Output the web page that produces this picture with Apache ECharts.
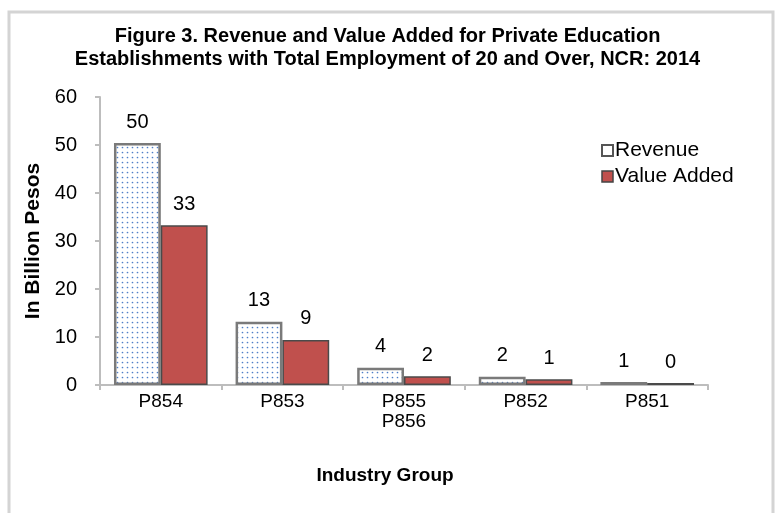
<!DOCTYPE html>
<html>
<head>
<meta charset="utf-8">
<script src="https://cdn.jsdelivr.net/npm/echarts@6/dist/echarts.min.js"></script>
<style>
  html, body { margin: 0; padding: 0; background: #fff; }
  #main { width: 775px; height: 513px; }
</style>
</head>
<body>
<div id="main"></div>
<script>
// 行业分组
const categories = ['P854', 'P853', 'P855\nP856', 'P852', 'P851'];
// 收入（十亿比索）
const revenue = [50.4, 13.2, 3.6, 1.7, 0.6];
// 增加值（十亿比索）
const valueAdded = [33.3, 9.4, 1.8, 1.2, 0.4];
const yTicks = [0, 10, 20, 30, 40, 50, 60];

const FONT = '"Liberation Sans", Arial, sans-serif';

// 点状填充图案
function dotPattern() {
  const c = document.createElement('canvas');
  c.width = 5;
  c.height = 5;
  const ctx = c.getContext('2d');
  ctx.fillStyle = '#ffffff';
  ctx.fillRect(0, 0, 5, 5);
  ctx.fillStyle = '#4f7fc8';
  ctx.beginPath();
  ctx.arc(2.5, 2.5, 0.85, 0, Math.PI * 2);
  ctx.fill();
  return c;
}

const chart = echarts.init(document.getElementById('main'), null, { renderer: 'canvas' });

const labelStyle = {
  show: true,
  position: 'top',
  distance: 11,
  color: '#000',
  fontFamily: FONT,
  fontSize: 20,
  formatter: p => Math.round(p.value)
};

chart.setOption({
  animation: false,
  backgroundColor: '#fff',
  title: {
    text: 'Figure 3. Revenue and Value Added for Private Education\nEstablishments with Total Employment of 20 and Over, NCR: 2014',
    left: 'center',
    top: 20,
    textStyle: {
      fontFamily: FONT,
      fontWeight: 'bold',
      fontSize: 20,
      lineHeight: 23,
      color: '#000'
    }
  },
  graphic: [
    {
      type: 'rect',
      shape: { x: 9, y: 12, width: 764, height: 520 },
      style: { fill: 'none', stroke: '#d4d4d4', lineWidth: 3 },
      silent: true
    }
  ],
  legend: {
    orient: 'vertical',
    left: 596,
    top: 135,
    itemWidth: 11,
    itemHeight: 11,
    itemGap: 5,
    textStyle: { fontFamily: FONT, fontSize: 21, color: '#000', padding: [0, 0, 0, -3] },
    data: [
      { name: 'Revenue', icon: 'rect', itemStyle: { color: '#ffffff', borderColor: '#555', borderWidth: 2 } },
      { name: 'Value Added', icon: 'rect', itemStyle: { color: '#c0504d', borderColor: '#444', borderWidth: 1.5 } }
    ]
  },
  grid: { left: 100, right: 67, top: 97, bottom: 128 },
  xAxis: {
    type: 'category',
    data: categories,
    name: 'Industry Group',
    nameLocation: 'middle',
    nameGap: 81,
    nameTextStyle: { fontFamily: FONT, fontWeight: 'bold', fontSize: 19, color: '#000', padding: [0, 38, 0, 0] },
    axisLine: { lineStyle: { color: '#bdbdbd', width: 2 } },
    axisTick: { show: true, length: 5, lineStyle: { color: '#bdbdbd', width: 2 } },
    axisLabel: { fontFamily: FONT, fontSize: 19, color: '#000', margin: 7, lineHeight: 20 }
  },
  yAxis: {
    type: 'value',
    min: yTicks[0],
    max: yTicks[yTicks.length - 1],
    interval: 10,
    name: 'In Billion Pesos',
    nameLocation: 'middle',
    nameGap: 43,
    nameTextStyle: { fontFamily: FONT, fontWeight: 'bold', fontSize: 21, color: '#000' },
    axisLine: { show: true, lineStyle: { color: '#bdbdbd', width: 2 } },
    axisTick: { show: true, length: 5, lineStyle: { color: '#bdbdbd', width: 2 } },
    splitLine: { show: false },
    axisLabel: { fontFamily: FONT, fontSize: 20, color: '#000', margin: 23 }
  },
  series: [
    {
      name: 'Revenue',
      type: 'bar',
      data: revenue,
      barGap: '0%',
      barCategoryGap: '23%',
      itemStyle: {
        color: { image: dotPattern(), repeat: 'repeat' },
        borderColor: '#7a7a7a',
        borderWidth: 2.5,
        borderRadius: 0
      },
      label: labelStyle
    },
    {
      name: 'Value Added',
      type: 'bar',
      data: valueAdded,
      itemStyle: {
        color: '#c0504d',
        borderColor: '#4a4a4a',
        borderWidth: 1.5
      },
      label: labelStyle
    }
  ]
});
</script>
</body>
</html>
